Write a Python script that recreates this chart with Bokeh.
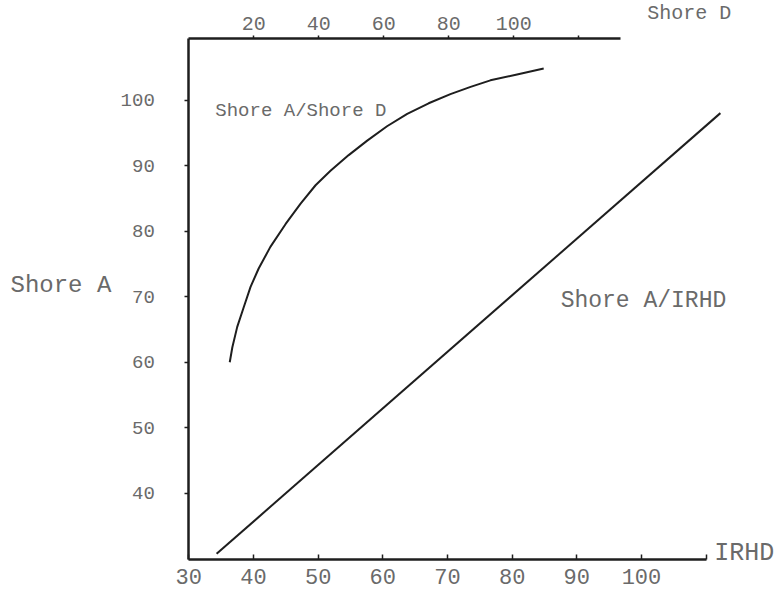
from bokeh.plotting import figure
from bokeh.models import LinearAxis, Range1d, FixedTicker, Label
from bokeh.embed import file_html
from bokeh.resources import INLINE

# ---- data ----
# Shore A vs IRHD (straight line, bottom axis)
irhd_values = [34.3, 112.2]
shore_a_for_irhd = [30.8, 98.0]

# Shore A vs Shore D (curve, top axis)
shore_d_values = [12.6, 13.4, 14.9, 16.9, 19.0, 21.5, 25.1, 29.8, 34.4, 39.0, 43.6,
                  49.2, 54.9, 61.0, 67.2, 73.8, 80.5, 86.7, 92.8, 101.0, 109.2]
shore_a_for_d = [60.0, 62.3, 65.4, 68.4, 71.5, 74.3, 77.6, 81.1, 84.2, 87.0, 89.2,
                 91.6, 93.8, 96.0, 97.9, 99.5, 100.9, 102.0, 103.0, 103.9, 104.8]

irhd_ticks = [30, 40, 50, 60, 70, 80, 90, 100]
irhd_extra_ticks = [110]
shore_a_ticks = [40, 50, 60, 70, 80, 90, 100]
shore_d_ticks = [20, 40, 60, 80, 100]
shore_d_extra_ticks = [120]

FONT = "Liberation Mono"
TXT = "#6a6a6a"
INK = "#1e1e1e"

W, H = 776, 597
# scale calibration (pixels)
PX_X30, PX_PER_IRHD = 188.3, 6.467
PX_Y30, PX_PER_A = 558.5, 6.557
PX_D0, PX_PER_D = 188.3, 3.25
Y_TOP = 109.38          # Shore A value at the top axis
IRHD_END = 110
SHORE_D_END = 132.8

x_range = Range1d(30 - PX_X30 / PX_PER_IRHD, 30 + (W - PX_X30) / PX_PER_IRHD)
y_range = Range1d(30 - (H - PX_Y30) / PX_PER_A, 30 + PX_Y30 / PX_PER_A)

p = figure(width=W, height=H, x_range=x_range, y_range=y_range,
           x_axis_location=None, y_axis_location=None,
           output_backend="svg", toolbar_location=None,
           min_border=0, min_border_left=0, min_border_right=0,
           min_border_top=0, min_border_bottom=0,
           background_fill_color="white", border_fill_color="white")
p.outline_line_color = None
for g in p.grid:
    g.visible = False

p.extra_x_ranges = {"shoreD": Range1d(-PX_D0 / PX_PER_D, (W - PX_D0) / PX_PER_D)}


def style(ax, tin, tout, standoff, size):
    ax.axis_line_width = 2.5
    ax.axis_line_color = INK
    ax.major_tick_line_color = INK
    ax.minor_tick_line_color = INK
    ax.major_tick_line_width = 1.5
    ax.minor_tick_line_width = 1.5
    ax.major_tick_in = tin
    ax.major_tick_out = tout
    ax.minor_tick_in = tin
    ax.minor_tick_out = tout
    ax.major_label_standoff = standoff
    ax.major_label_text_font = FONT
    ax.major_label_text_font_size = size
    ax.major_label_text_color = TXT


bottom = LinearAxis(ticker=FixedTicker(ticks=irhd_ticks, minor_ticks=irhd_extra_ticks),
                    bounds=(30, IRHD_END), fixed_location=30)
style(bottom, 5, 0, 10, "22px")
p.add_layout(bottom, "below")

left = LinearAxis(ticker=FixedTicker(ticks=shore_a_ticks), bounds=(30, Y_TOP),
                  fixed_location=30)
style(left, 0, 4, 30, "19px")
p.add_layout(left, "left")

top = LinearAxis(x_range_name="shoreD",
                 ticker=FixedTicker(ticks=shore_d_ticks, minor_ticks=shore_d_extra_ticks),
                 bounds=(0, SHORE_D_END), fixed_location=Y_TOP)
style(top, 0, 3, 6, "20px")
p.add_layout(top, "above")

p.line(irhd_values, shore_a_for_irhd, line_width=2, line_color=INK)
p.line(shore_d_values, shore_a_for_d, x_range_name="shoreD", line_width=2, line_color=INK)


def txt(x, y, s, size, **kw):
    p.add_layout(Label(x=x, y=y, text=s, text_baseline="middle", text_font=FONT,
                       text_font_size=size, text_color=TXT, **kw))


txt(2.43, 71.7, "Shore A", "24px")
txt(34.1, 98.4, "Shore A/Shore D", "19px")
txt(87.5, 69.4, "Shore A/IRHD", "23px")
txt(IRHD_END, 30, "IRHD", "25px", x_offset=8, y_offset=6)
txt(100.9, Y_TOP, "Shore D", "20px", y_offset=25)

open("out.html", "w").write(file_html(p, INLINE))
